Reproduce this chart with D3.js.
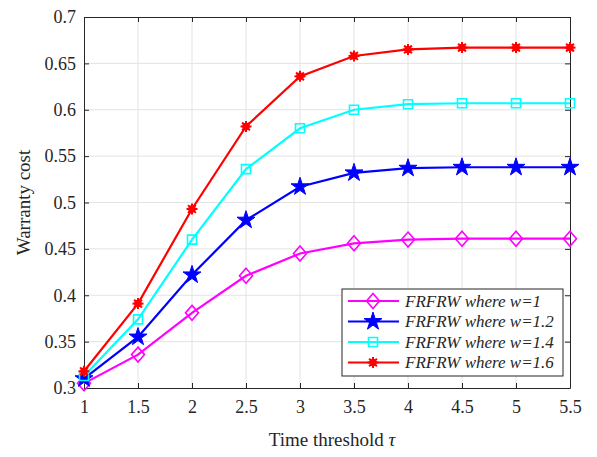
<!DOCTYPE html>
<html>
<head>
<meta charset="utf-8">
<script src="https://cdn.jsdelivr.net/npm/d3@7"></script>
<style>
  body { margin: 0; background: #fff; }
  svg text { font-family: "Liberation Serif", Tinos, "Times New Roman", "DejaVu Serif", serif !important; fill: #262626; }
</style>
</head>
<body>
<svg id="chart" width="597" height="457"></svg>
<script>
// data
const tau = [1, 1.5, 2, 2.5, 3, 3.5, 4, 4.5, 5, 5.5];
const w1 = [0.305, 0.336, 0.381, 0.421, 0.445, 0.456, 0.460, 0.461, 0.461, 0.461];
const w12 = [0.310, 0.355, 0.422, 0.481, 0.517, 0.532, 0.537, 0.538, 0.538, 0.538];
const w14 = [0.313, 0.374, 0.460, 0.536, 0.580, 0.600, 0.606, 0.607, 0.607, 0.607];
const w16 = [0.318, 0.391, 0.493, 0.582, 0.636, 0.658, 0.665, 0.667, 0.667, 0.667];
const xTicks = [1, 1.5, 2, 2.5, 3, 3.5, 4, 4.5, 5, 5.5];
const yTicks = [0.3, 0.35, 0.4, 0.45, 0.5, 0.55, 0.6, 0.65, 0.7];

const series = [
  { name: "FRFRW where w=1", values: w1, color: "#ff00ff", marker: "diamond" },
  { name: "FRFRW where w=1.2", values: w12, color: "#0000ff", marker: "star" },
  { name: "FRFRW where w=1.4", values: w14, color: "#00ffff", marker: "square" },
  { name: "FRFRW where w=1.6", values: w16, color: "#ff0000", marker: "asterisk" }
];

const svg = d3.select("#chart");
const margin = { left: 84, right: 27, top: 17, bottom: 69 };
const width = 597, height = 457;

const x = d3.scaleLinear().domain([1, 5.5]).range([margin.left, width - margin.right]);
const y = d3.scaleLinear().domain([0.3, 0.7]).range([height - margin.bottom, margin.top]);

const fmt = d => String(+d.toFixed(2));

// grid
const grid = svg.append("g").attr("stroke", "#e3e3e3").attr("stroke-width", 1);
grid.selectAll(".gx").data(xTicks.slice(1, -1)).enter().append("line")
  .attr("x1", d => x(d)).attr("x2", d => x(d))
  .attr("y1", y(0.3)).attr("y2", y(0.7));
grid.selectAll(".gy").data(yTicks.slice(1, -1)).enter().append("line")
  .attr("y1", d => y(d)).attr("y2", d => y(d))
  .attr("x1", x(1)).attr("x2", x(5.5));

// axes (ticks point inward, box on all sides)
const tickLen = 5;
const xAxis = svg.append("g").attr("transform", `translate(0,${y(0.3)})`)
  .call(d3.axisBottom(x).tickValues(xTicks).tickFormat(fmt).tickSizeInner(-tickLen).tickSizeOuter(0).tickPadding(12));
const xTop = svg.append("g").attr("transform", `translate(0,${y(0.7)})`)
  .call(d3.axisTop(x).tickValues(xTicks).tickFormat("").tickSizeInner(-tickLen).tickSizeOuter(0));
const yAxis = svg.append("g").attr("transform", `translate(${x(1)},0)`)
  .call(d3.axisLeft(y).tickValues(yTicks).tickFormat(fmt).tickSizeInner(-tickLen).tickSizeOuter(0).tickPadding(8));
const yRight = svg.append("g").attr("transform", `translate(${x(5.5)},0)`)
  .call(d3.axisRight(y).tickValues(yTicks).tickFormat("").tickSizeInner(-tickLen).tickSizeOuter(0));

[xAxis, xTop, yAxis, yRight].forEach(a => {
  a.attr("font-family", null);
  a.selectAll("path, line").attr("stroke", "#262626").attr("stroke-width", 1);
  a.selectAll("text").attr("font-size", 18).attr("fill", "#262626");
});

// lines
const line = d3.line().x((d, i) => x(tau[i])).y(d => y(d));

function markerPath(type) {
  if (type === "diamond") return "M0,-7.5L6.5,0L0,7.5L-6.5,0Z";
  if (type === "square") return "M-4.5,-4.5H4.5V4.5H-4.5Z";
  if (type === "star") return d3.symbol().type(d3.symbolStar).size(100)();
  return null;
}

function drawMarker(g, s, cx, cy) {
  if (s.marker === "asterisk") {
    const a = g.append("g").attr("transform", `translate(${cx},${cy})`);
    a.append("circle").attr("r", 3.8).attr("fill", s.color);
    [0, 45, 90, 135].forEach(ang => {
      a.append("line").attr("x1", -5.5).attr("x2", 5.5).attr("y1", 0).attr("y2", 0)
        .attr("transform", `rotate(${ang})`).attr("stroke", s.color).attr("stroke-width", 2);
    });
    return;
  }
  const filled = s.marker === "star";
  g.append("path").attr("d", markerPath(s.marker))
    .attr("transform", `translate(${cx},${cy})`)
    .attr("stroke", s.color).attr("stroke-width", filled ? 1 : 1.6)
    .attr("fill", filled ? s.color : "none");
}

series.forEach(s => {
  const g = svg.append("g");
  g.append("path").datum(s.values).attr("d", line)
    .attr("fill", "none").attr("stroke", s.color).attr("stroke-width", 2.2);
  s.values.forEach((v, i) => drawMarker(g, s, x(tau[i]), y(v)));
});

// legend
const lg = svg.append("g").attr("transform", "translate(342,289)");
lg.append("rect").attr("width", 221).attr("height", 87)
  .attr("fill", "#fff").attr("stroke", "#262626").attr("stroke-width", 1);
series.forEach((s, i) => {
  const ly = 12 + i * 20.5;
  const row = lg.append("g");
  row.append("line").attr("x1", 6).attr("x2", 57).attr("y1", ly).attr("y2", ly)
    .attr("stroke", s.color).attr("stroke-width", 2.2);
  drawMarker(row, s, 31, ly);
  row.append("text").attr("x", 63).attr("y", ly + 5.5)
    .attr("font-size", 17).attr("font-style", "italic").text(s.name);
});

// axis titles
const xt = svg.append("text").attr("x", (x(1) + x(5.5)) / 2 + 5).attr("y", 446)
  .attr("text-anchor", "middle").attr("font-size", 19);
xt.append("tspan").text("Time threshold  ");
xt.append("tspan").attr("font-style", "italic").text("τ");

svg.append("text").attr("transform", `translate(30,${(y(0.3) + y(0.7)) / 2}) rotate(-90)`)
  .attr("text-anchor", "middle").attr("font-size", 19).text("Warranty cost");
</script>
</body>
</html>
